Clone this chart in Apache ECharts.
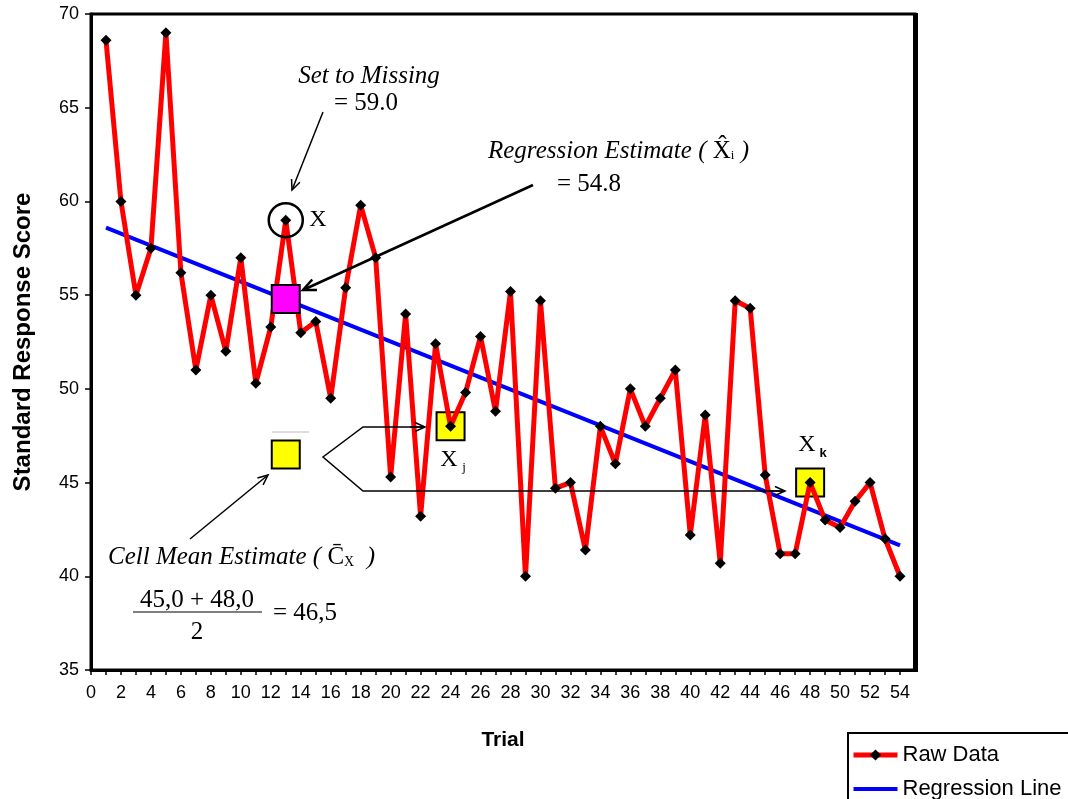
<!DOCTYPE html>
<html>
<head>
<meta charset="utf-8">
<script src="https://cdn.jsdelivr.net/npm/echarts@6/dist/echarts.min.js"></script>
<style>
  html, body { margin: 0; padding: 0; background: #fff; }
  #main { width: 1068px; height: 799px; }
</style>
</head>
<body>
<div id="main"></div>
<script>
const trials = [1, 2, 3, 4, 5, 6, 7, 8, 9, 10, 11, 12, 13, 14, 15, 16, 17, 18, 19, 20,
  21, 22, 23, 24, 25, 26, 27, 28, 29, 30, 31, 32, 33, 34, 35, 36, 37, 38, 39, 40,
  41, 42, 43, 44, 45, 46, 47, 48, 49, 50, 51, 52, 53, 54];
const rawScores = [68.6, 60.0, 55.0, 57.5, 69.0, 56.2, 51.0, 55.0, 52.0, 57.0,
  50.3, 53.3, 59.0, 53.0, 53.6, 49.5, 55.4, 59.8, 57.0, 45.3,
  54.0, 43.2, 52.4, 48.0, 49.8, 52.8, 48.8, 55.2, 40.0, 54.7,
  44.7, 45.0, 41.4, 48.0, 46.0, 50.0, 48.0, 49.5, 51.0, 42.2,
  48.6, 40.7, 54.7, 54.3, 45.4, 41.2, 41.2, 45.0, 43.0, 42.6,
  44.0, 45.0, 42.0, 40.0];

// regression line end points
const regTrials = [1, 54];
const regScores = [58.6, 41.65];

// highlighted cells
const missingTrial = [13];
const missingScore = [59.0];
const regEstTrial = [13];
const regEstScore = [54.8];
const neighbourTrials = [24, 48];
const neighbourScores = [48.0, 45.0];
const cellMeanTrial = [13];
const cellMeanScore = [46.5];

const yTicks = [35, 40, 45, 50, 55, 60, 65, 70];

const pairs = (xs, ys) => xs.map((x, i) => [x, ys[i]]);

const serif = '"Liberation Serif", "Times New Roman", serif';
const sans = '"Liberation Sans", Arial, sans-serif';

function arrow(x1, y1, x2, y2, w, head) {
  const ang = Math.atan2(y2 - y1, x2 - x1);
  const a1 = ang + Math.PI - 0.42, a2 = ang + Math.PI + 0.42;
  return {
    type: 'group', z: 100,
    children: [
      { type: 'line', z: 100, shape: { x1, y1, x2, y2 }, style: { stroke: '#000', lineWidth: w } },
      { type: 'polyline', z: 100,
        shape: { points: [[x2 + head * Math.cos(a1), y2 + head * Math.sin(a1)], [x2, y2],
                          [x2 + head * Math.cos(a2), y2 + head * Math.sin(a2)]] },
        style: { stroke: '#000', fill: null, lineWidth: w } }
    ]
  };
}

function label(x, y, text, font, extra) {
  return {
    type: 'text', z: 100, x, y,
    style: Object.assign({ text, font, fill: '#000', align: 'center', verticalAlign: 'middle' }, extra || {})
  };
}

const chart = echarts.init(document.getElementById('main'));

const option = {
  animation: false,
  grid: {
    left: 91, right: 153, top: 14, bottom: 129,
    containLabel: false, outerBoundsMode: 'none',
    show: true, borderColor: '#000', borderWidth: 3
  },
  legend: {
    data: [
      { name: 'Raw Data', lineStyle: { width: 5 } },
      { name: 'Regression Line', lineStyle: { width: 4 }, itemStyle: { opacity: 0 } }
    ],
    orient: 'vertical',
    left: 848, top: 733, height: 90,
    padding: [11, 20, 10, 3],
    itemWidth: 44, itemHeight: 14, itemGap: 12,
    borderColor: '#000', borderWidth: 2, borderRadius: 0,
    backgroundColor: '#fff',
    textStyle: { fontFamily: sans, fontSize: 22, color: '#000' }
  },
  xAxis: {
    type: 'value', min: 0, max: 55, interval: 1,
    name: 'Trial', nameLocation: 'middle', nameGap: 60,
    nameTextStyle: { fontFamily: sans, fontSize: 21, fontWeight: 'bold', color: '#000' },
    axisLine: { lineStyle: { color: '#000', width: 3 } },
    axisTick: { show: true, length: 5, lineStyle: { color: '#000', width: 1.5 } },
    axisLabel: {
      margin: 14, fontFamily: sans, fontSize: 18, color: '#000',
      showMaxLabel: false,
      formatter: v => (v % 2 === 0 && v <= 54 ? String(v) : '')
    },
    splitLine: { show: false }
  },
  yAxis: {
    type: 'value', min: yTicks[0], max: yTicks[yTicks.length - 1], interval: 5,
    name: 'Standard Response Score', nameLocation: 'middle', nameGap: 56,
    nameTextStyle: { fontFamily: sans, fontSize: 24, fontWeight: 'bold', color: '#000' },
    axisLine: { show: true, lineStyle: { color: '#000', width: 3 } },
    axisTick: { show: true, length: 6, lineStyle: { color: '#000', width: 1.5 } },
    axisLabel: { margin: 12, fontFamily: sans, fontSize: 18, color: '#000' },
    splitLine: { show: false }
  },
  series: [
    {
      name: 'Regression Line', type: 'line', z: 1,
      data: pairs(regTrials, regScores),
      symbol: 'none',
      lineStyle: { color: '#0000ff', width: 4 },
      itemStyle: { color: '#0000ff' }
    },
    {
      name: 'Neighbour Cells', type: 'scatter', z: 1,
      data: pairs(neighbourTrials, neighbourScores),
      symbol: 'rect', symbolSize: 28,
      itemStyle: { color: '#ffff00', borderColor: '#000', borderWidth: 2, opacity: 1 }
    },
    {
      name: 'Raw Data', type: 'line', z: 2,
      data: pairs(trials, rawScores),
      symbol: 'diamond', symbolSize: 11,
      lineStyle: { color: '#ff0000', width: 5 },
      itemStyle: { color: '#000' }
    },
    {
      name: 'Regression Estimate', type: 'scatter', z: 3,
      data: pairs(regEstTrial, regEstScore),
      symbol: 'rect', symbolSize: 28,
      itemStyle: { color: '#ff00ff', borderColor: '#000', borderWidth: 2, opacity: 1 }
    },
    {
      name: 'Cell Mean', type: 'scatter', z: 3,
      data: pairs(cellMeanTrial, cellMeanScore),
      symbol: 'rect', symbolSize: 28,
      itemStyle: { color: '#ffff00', borderColor: '#000', borderWidth: 2, opacity: 1 }
    },
    {
      name: 'Missing', type: 'scatter', z: 3,
      data: pairs(missingTrial, missingScore),
      symbol: 'circle', symbolSize: 34,
      itemStyle: { color: 'rgba(0,0,0,0)', borderColor: '#000', borderWidth: 2.5, opacity: 1 }
    }
  ],
  graphic: [
    // thick right edge of the plot frame
    { type: 'rect', z: 100, shape: { x: 913, y: 13, width: 5, height: 659 }, style: { fill: '#000' } },

    label(369, 76, 'Set to Missing', 'italic 25px ' + serif),
    label(366, 103, '= 59.0', '25px ' + serif),
    arrow(323, 112, 292, 190, 1.5, 11),
    label(318, 220, 'X', '24px ' + serif),

    {
      type: 'text', z: 100, x: 488, y: 151,
      style: {
        text: '{a|Regression Estimate ( }{b|X̂}{s|i}{a| )}',
        verticalAlign: 'middle',
        rich: {
          a: { font: 'italic 25px ' + serif, fill: '#000' },
          b: { font: '25px ' + serif, fill: '#000' },
          s: { font: '13px ' + serif, fill: '#000', padding: [10, 0, 0, 0] }
        }
      }
    },
    label(589, 184, '= 54.8', '25px ' + serif),
    arrow(533, 185, 303, 290, 2.5, 14),

    label(449, 460, 'X', '24px ' + serif),
    label(464, 468, 'j', '13px ' + serif),
    label(807, 445, 'X', '24px ' + serif),
    label(823, 453, 'k', 'bold 13px ' + sans),

    // bar above the cell mean box
    { type: 'line', z: 100, shape: { x1: 272, y1: 432, x2: 309, y2: 432 }, style: { stroke: '#bbb', lineWidth: 1 } },

    // bracket pointing at the two neighbouring cells
    { type: 'polyline', z: 100, shape: { points: [[425, 427], [363, 427], [323, 457], [363, 491], [785, 491]] },
      style: { stroke: '#000', fill: null, lineWidth: 1.5 } },
    arrow(410, 427, 425, 427, 1.5, 11),
    arrow(770, 491, 785, 491, 1.5, 11),

    {
      type: 'text', z: 100, x: 108, y: 557,
      style: {
        text: '{a|Cell Mean Estimate ( }{b|C̄}{s|X}{a|  )}',
        verticalAlign: 'middle',
        rich: {
          a: { font: 'italic 25px ' + serif, fill: '#000' },
          b: { font: '25px ' + serif, fill: '#000' },
          s: { font: '14px ' + serif, fill: '#000', padding: [10, 0, 0, 0] }
        }
      }
    },
    arrow(190, 539, 268, 475, 1.5, 11),

    label(197, 600, '45,0 + 48,0', '25px ' + serif),
    { type: 'line', z: 100, shape: { x1: 133, y1: 612, x2: 262, y2: 612 }, style: { stroke: '#000', lineWidth: 1 } },
    label(197, 632, '2', '25px ' + serif),
    label(273, 613, '= 46,5', '25px ' + serif, { align: 'left' })
  ]
};

chart.setOption(option);
</script>
</body>
</html>
